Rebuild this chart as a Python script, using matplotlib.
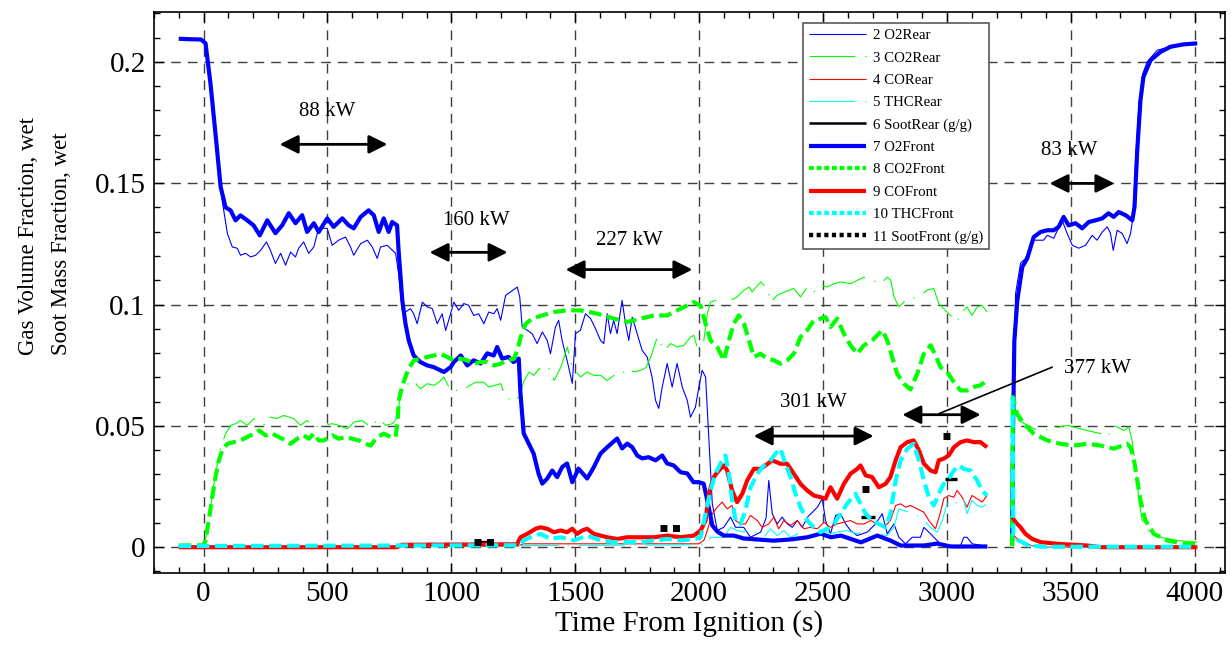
import numpy as np
import matplotlib
matplotlib.use("Agg")
import matplotlib.pyplot as plt
from matplotlib.ticker import MultipleLocator, FuncFormatter

plt.rcParams["font.family"] = ["Liberation Serif", "DejaVu Serif"]
plt.rcParams["lines.scale_dashes"] = False

nan = np.nan

# (time s, fraction); nan marks the data gap
O2_REAR = [(-100, .2095), (-10, .2092), (8, .2076), (28, .191), (48, .1705), (69, .1484), (75, .143),
           (96, .1293), (116, .1237), (136, .1232), (149, .1203), (170, .1211), (190, .1196), (210, .1203),
           (230, .1223), (254, .1258), (270, .1223), (290, .1169), (311, .1211), (331, .1162), (351, .1216),
           (371, .1196), (384, .1232), (404, .1258), (424, .1211), (445, .1237), (459, .1293), (479, .1314),
           (499, .1314), (519, .1244), (545, .1265), (573, .1278), (593, .1237), (606, .1203), (634, .1251),
           (661, .1265), (681, .1237), (701, .119), (714, .1237), (741, .1244), (775, .1211), (787, .1128),
           (802, .0976), (815, .0969), (835, .0983), (848, .0962), (862, .0921), (883, .101), (903, .099),
           (923, .0983), (943, .0921), (963, .0962), (977, .0893), (997, .0962), (1010, .101), (1030, .0976),
           (1050, .1004), (1070, .0997), (1090, .0955), (1110, .0962), (1131, .0921), (1151, .0969),
           (1171, .0962), (1185, .0983), (1199, .0935), (1219, .1038), (1239, .1052), (1266, .1072),
           (1276, .1031), (1286, .0907), (1306, .0894), (1326, .088), (1346, .0839), (1367, .0887),
           (1387, .0852), (1400, .0797), (1420, .0907), (1433, .0935), (1447, .0852), (1467, .077),
           (1488, .0675), (1501, .088), (1521, .0894), (1541, .0962), (1562, .0942), (1582, .09),
           (1602, .0852), (1615, .0839), (1629, .0962), (1642, .088), (1655, .0935), (1669, .088),
           (1689, .1017), (1703, .0921), (1716, .0852), (1730, .0948), (1750, .088), (1770, .0811),
           (1790, .0784), (1810, .0701), (1824, .0605), (1837, .0572), (1851, .066), (1871, .0757),
           (1891, .066), (1911, .0757), (1932, .066), (1952, .0605), (1965, .0536), (1985, .0577),
           (1999, .066), (2012, .0729), (2026, .0701), (2039, .045), (2053, .018), (2073, .0069),
           (2099, .0082), (2127, .0124), (2147, .0082), (2180, .0082), (2207, .0041), (2248, .0062),
           (2270, .012), (2281, .0275), (2295, .0138), (2315, .0096), (2335, .0124), (2356, .0096),
           (2376, .0082), (2396, .011), (2416, .0082), (2437, .0124), (2457, .0144), (2477, .0165),
           (2497, .02), (2510, .011), (2530, .0055), (2551, .0131), (2571, .0138), (2591, .0096),
           (2611, .0069), (2638, .0048), (2678, .0062), (2712, .0096), (2739, .0138), (2759, .0055),
           (2786, .0096), (2806, .0041), (2833, .0014), (2860, .0041), (2893, .0041), (2907, .0082),
           (2934, .0055), (2954, .0034), (2974, .0014), (3015, .0007), (3055, .0007), (3068, .0041),
           (3081, .0041), (3102, .0014), (3162, .0004), (3210, nan), (3263, .001), (3268, .06),
           (3277, .1045), (3297, .117), (3317, .119), (3350, .1265), (3390, .1265), (3405, .1285),
           (3431, .1273), (3465, .1347), (3485, .1293), (3506, .1244), (3532, .1232), (3559, .1244),
           (3586, .1285), (3606, .1265), (3627, .1299), (3647, .132), (3660, .1293), (3671, .1223),
           (3687, .1306), (3707, .1293), (3727, .1251), (3741, .1293), (3751, .1361), (3762, .16),
           (3775, .183), (3790, .195), (3808, .2), (3849, .2048), (3902, .2062), (3955, .2072), (4010, .2076)]

CO2_REAR = [(-100, .0005), (0, .0006), (10, .004), (25, .014), (40, .025), (55, .034), (69, .041),
            (89, .0468), (109, .0502), (129, .0509), (149, .0522), (176, .0502), (204, .053), (230, .0516),
            (250, .0502), (270, .0536), (297, .053), (324, .0543), (364, .053), (391, .0502), (418, .0522),
            (445, .0495), (485, .0502), (519, .0509), (546, .0502), (580, .0488), (607, .0516), (640, .0522),
            (674, .0495), (708, .053), (735, .0502), (762, .0509), (782, .0536), (795, .0633), (809, .0667),
            (829, .0674), (849, .0687), (862, .0667), (876, .0653), (903, .0674), (930, .0667), (950, .068),
            (970, .0701), (997, .0646), (1037, .0646), (1064, .066), (1098, .068), (1131, .068),
            (1151, .066), (1199, .0674), (1219, .0619), (1253, .0598), (1273, .0619), (1294, .0687),
            (1314, .0722), (1334, .0708), (1354, .0736), (1375, .0722), (1395, .0736), (1415, .0687),
            (1442, .0742), (1468, .0825), (1488, .0742), (1521, .0701), (1548, .0722), (1575, .0708),
            (1602, .0708), (1629, .0687), (1656, .0708), (1683, .0708), (1710, .0736), (1737, .0722),
            (1764, .0729), (1785, .074), (1805, .0784), (1831, .0866), (1858, .0811), (1885, .0839),
            (1912, .0825), (1939, .0832), (1965, .0866), (1979, .0873), (1999, .0797), (2019, .0852),
            (2033, .0962), (2046, .101), (2066, .1017), (2086, .0997), (2100, .099), (2127, .1017),
            (2153, .1031), (2181, .1059), (2201, .1072), (2214, .1052), (2248, .1093), (2275, .1066),
            (2289, .101), (2315, .1038), (2362, .1059), (2382, .1066), (2409, .1031), (2436, .1072),
            (2463, .1052), (2490, .1079), (2517, .1072), (2544, .1086), (2571, .1093), (2611, .1086),
            (2665, .1113), (2698, .11), (2733, .1086), (2759, .1113), (2773, .11), (2787, .1031),
            (2806, .099), (2833, .1017), (2860, .1024), (2893, .1038), (2920, .1059), (2947, .1066),
            (2967, .1004), (2987, .0983), (3007, .0962), (3028, .0942), (3041, .0928), (3061, .0969),
            (3081, .099), (3101, .0955), (3122, .099), (3142, .0997), (3162, .0969), (3210, nan),
            (3263, .0005), (3267, .059), (3290, .0522), (3350, .0488), (3390, .0481), (3420, .0488),
            (3485, .0502), (3512, .0495), (3566, .0481), (3620, .0468), (3647, .0454), (3674, .0502),
            (3714, .0481), (3734, .0495), (3747, .044), (3761, .033), (3775, .0193), (3788, .011),
            (3815, .0069), (3862, .0041), (3929, .0028), (4010, .0021)]

CO_REAR = [(-100, 0), (780, 0), (800, .0005), (1270, .0005), (1290, .0014), (2000, .0014), (2020, .003),
           (2033, .0069), (2053, .0138), (2073, .0165), (2093, .0186), (2113, .0158), (2133, .0172),
           (2147, .011), (2167, .0096), (2187, .0096), (2207, .0131), (2235, .011), (2254, .0082),
           (2281, .0096), (2301, .0124), (2321, .0076), (2342, .011), (2369, .009), (2396, .011),
           (2423, .0076), (2450, .0082), (2477, .0076), (2504, .0103), (2530, .0082), (2557, .0096),
           (2584, .0103), (2611, .011), (2638, .0096), (2665, .0096), (2692, .011), (2719, .0096),
           (2745, .0082), (2772, .011), (2793, .0172), (2813, .0179), (2833, .0165), (2853, .0172),
           (2880, .0158), (2907, .0144), (2927, .011), (2954, .0076), (2974, .0144), (2987, .02),
           (3007, .0213), (3028, .0206), (3041, .0234), (3061, .0206), (3081, .0165), (3101, .0213),
           (3122, .02), (3142, .0186), (3162, .0213), (3210, nan), (3263, .0055), (3290, .0028),
           (3340, .0007), (3400, 0), (4010, 0)]

THC_REAR = [(-100, 0), (2030, .001), (2046, .0041), (2099, .0041), (2127, .0082), (2153, .0069),
            (2181, .0062), (2207, .0076), (2235, .0055), (2261, .0041), (2288, .0076), (2315, .0048),
            (2342, .0069), (2369, .0041), (2396, .0055), (2423, .0041), (2450, .0048), (2477, .0062),
            (2504, .0069), (2530, .0055), (2557, .0062), (2597, .0069), (2638, .0055), (2678, .0069),
            (2719, .0055), (2759, .0048), (2786, .0082), (2806, .0158), (2826, .0151), (2853, .0144),
            (2880, .0131), (2907, .011), (2934, .0082), (2961, .0062), (2981, .011), (3001, .0179),
            (3028, .0193), (3048, .0172), (3068, .0193), (3081, .0138), (3101, .0193), (3122, .0172),
            (3142, .0165), (3162, .0179), (3210, nan), (3263, .004), (3290, .0021), (3340, .0005),
            (3400, 0), (4010, 0)]

SOOT_REAR = [(1105, .0023), (1160, .0023), (1400, nan), (2652, .0125), (2708, .0125), (2800, nan),
             (2992, .0283), (3040, .0283)]

O2_FRONT = [(-100, .2095), (-50, .2093), (-10, .2092), (8, .2076), (28, .191), (48, .1705), (69, .1484),
            (89, .140), (109, .1388), (129, .1347), (149, .1367), (176, .1347), (202, .1326), (227, .1285),
            (257, .1347), (290, .1294), (317, .1326), (344, .1376), (371, .1335), (398, .1368), (418, .1299),
            (445, .1335), (465, .1299), (499, .1355), (525, .1320), (560, .1355), (586, .1326), (606, .1314),
            (634, .1361), (666, .1388), (687, .1368), (707, .1299), (727, .1355), (747, .1299), (761, .1340),
            (781, .1326), (787, .1223), (802, .1017), (815, .092), (828, .0852), (848, .079), (875, .0763),
            (903, .0749), (929, .0742), (970, .0722), (997, .0742), (1010, .0763), (1038, .079),
            (1064, .0749), (1090, .077), (1118, .0757), (1145, .0799), (1171, .079), (1185, .0825),
            (1205, .0777), (1231, .0784), (1251, .0763), (1272, .0777), (1279, .0633), (1292, .0469),
            (1312, .0427), (1332, .0386), (1352, .0303), (1367, .0262), (1387, .0283), (1407, .0316),
            (1427, .0289), (1447, .033), (1467, .0345), (1488, .0268), (1513, .0324), (1548, .0283),
            (1575, .033), (1602, .0386), (1629, .0412), (1669, .0448), (1689, .0407), (1710, .0427),
            (1730, .0412), (1750, .0378), (1770, .0366), (1796, .0371), (1824, .0358), (1851, .0378),
            (1871, .0345), (1897, .0337), (1925, .0309), (1952, .0304), (1977, .0268), (1998, .0268),
            (2018, .0262), (2033, .0193), (2053, .009), (2073, .0065), (2099, .0048), (2139, .0048),
            (2180, .0036), (2235, .0032), (2301, .0027), (2369, .0032), (2437, .0041), (2491, .0056),
            (2531, .0041), (2572, .0048), (2653, .002), (2719, .0048), (2773, .0027), (2813, .0007),
            (2906, .0007), (2961, .0015), (3015, .0003), (3163, .0003), (3210, nan), (3263, .001),
            (3267, .05), (3272, .085), (3284, .1017), (3304, .1155), (3324, .119), (3350, .1278),
            (3378, .1299), (3405, .1306), (3431, .1306), (3451, .132), (3471, .1361), (3491, .1326),
            (3519, .1335), (3546, .1314), (3572, .134), (3600, .1347), (3627, .1355), (3652, .1376),
            (3673, .1361), (3693, .1381), (3721, .1368), (3748, .1347), (3757, .1402), (3768, .1636),
            (3781, .1842), (3793, .1938), (3822, .2007), (3862, .2041), (3902, .2062), (3955, .2072),
            (4010, .2076)]

CO2_FRONT = [(-100, .0007), (0, .0008), (8, .0028), (21, .011), (35, .0206), (48, .0289), (62, .0358),
             (75, .0399), (96, .0426), (122, .0433), (149, .044), (176, .0454), (204, .0468), (224, .0481),
             (250, .0461), (277, .0468), (304, .0454), (331, .044), (351, .0426), (378, .0447), (404, .0461),
             (425, .0447), (445, .0468), (465, .044), (485, .044), (519, .0461), (546, .0447), (573, .0454),
             (600, .0447), (627, .044), (654, .0426), (674, .0419), (701, .0454), (728, .0468), (755, .0454),
             (775, .0454), (782, .0509), (788, .0605), (802, .0667), (815, .0701), (828, .0736), (849, .077),
             (876, .0777), (903, .0784), (930, .079), (956, .0797), (983, .0784), (1010, .077), (1037, .0777),
             (1064, .077), (1091, .0756), (1118, .0763), (1145, .0763), (1172, .0749), (1199, .0756),
             (1226, .077), (1253, .0777), (1266, .0811), (1280, .0866), (1300, .0921), (1327, .0942),
             (1367, .0955), (1414, .0969), (1467, .0976), (1521, .0976), (1589, .0962), (1656, .0942),
             (1710, .0928), (1764, .0942), (1817, .0955), (1871, .0955), (1925, .0983), (1979, .101),
             (2006, .0995), (2026, .0921), (2046, .0852), (2073, .0825), (2100, .077), (2120, .0852),
             (2140, .0921), (2160, .0955), (2181, .0921), (2201, .0852), (2221, .0784), (2248, .0797),
             (2275, .0777), (2302, .077), (2328, .0756), (2355, .077), (2382, .0797), (2409, .0866),
             (2436, .0894), (2463, .0935), (2490, .0942), (2510, .0948), (2530, .0907), (2557, .0942),
             (2584, .088), (2611, .0832), (2638, .0797), (2665, .0832), (2698, .0852), (2739, .0894),
             (2759, .0852), (2779, .0784), (2799, .0715), (2826, .0674), (2853, .065), (2880, .0715),
             (2907, .0797), (2934, .0832), (2954, .079), (2974, .0742), (3001, .0722), (3028, .068),
             (3055, .0646), (3081, .0646), (3108, .066), (3135, .0667), (3162, .0687), (3210, nan),
             (3263, .0005), (3266, .0619), (3283, .055), (3310, .0509), (3350, .0468), (3405, .044),
             (3458, .0426), (3512, .0419), (3566, .0426), (3620, .0419), (3674, .0406), (3727, .0426),
             (3741, .0412), (3755, .0358), (3768, .0275), (3781, .0193), (3801, .011), (3835, .0055),
             (3889, .0028), (3957, .0014), (4010, .0014)]

CO_FRONT = [(-100, 0), (780, 0), (800, .001), (1265, .0012), (1279, .0041), (1306, .0055), (1340, .0076),
            (1360, .0082), (1387, .0076), (1414, .0062), (1441, .0069), (1467, .0062), (1488, .0076),
            (1508, .0055), (1528, .0069), (1548, .0076), (1575, .0055), (1602, .0048), (1629, .0041),
            (1669, .0034), (1710, .0041), (1764, .0041), (1817, .0041), (1871, .0048), (1925, .0041),
            (1979, .0048), (2006, .0069), (2026, .011), (2039, .022), (2059, .0289), (2079, .0316),
            (2100, .0337), (2113, .0316), (2133, .0234), (2153, .0186), (2174, .022), (2194, .0275),
            (2221, .0323), (2248, .0323), (2268, .0337), (2295, .0358), (2328, .0344), (2355, .0344),
            (2382, .0303), (2409, .0261), (2436, .0234), (2463, .0213), (2490, .0206), (2510, .02),
            (2530, .0247), (2557, .02), (2584, .0261), (2611, .0303), (2638, .0323), (2651, .0337),
            (2672, .0296), (2698, .0289), (2725, .0247), (2752, .0261), (2772, .0289), (2793, .0358),
            (2813, .0412), (2840, .0433), (2866, .044), (2887, .0399), (2907, .0344), (2934, .0316),
            (2954, .0309), (2967, .0358), (2987, .0365), (3007, .0378), (3028, .0412), (3055, .0433),
            (3081, .044), (3108, .0433), (3135, .0433), (3162, .0412), (3210, nan), (3263, .0124),
            (3277, .0103), (3297, .0082), (3317, .0055), (3344, .0034), (3378, .0021), (3445, .0014),
            (3566, .0007), (3620, 0), (4010, 0)]

THC_FRONT = [(-100, .0005), (1270, .0008), (1293, .0028), (1333, .0048), (1360, .0055), (1400, .0034),
             (1441, .0041), (1495, .0028), (1548, .0048), (1602, .0028), (1656, .0021), (1710, .0021),
             (1764, .0021), (1817, .0028), (1871, .0034), (1925, .0028), (1979, .0034), (2006, .0041),
             (2026, .0138), (2046, .0234), (2066, .0303), (2093, .0358), (2106, .0378), (2120, .0303),
             (2133, .0193), (2147, .011), (2167, .0096), (2187, .0151), (2207, .0247), (2235, .0303),
             (2261, .0337), (2288, .0358), (2308, .0385), (2328, .0406), (2348, .0344), (2369, .0289),
             (2389, .022), (2409, .0165), (2436, .011), (2463, .0082), (2490, .0062), (2517, .0076),
             (2544, .0096), (2571, .0138), (2597, .0179), (2631, .022), (2651, .0179), (2672, .0138),
             (2698, .011), (2725, .0096), (2752, .0082), (2772, .0138), (2793, .0275), (2813, .0358),
             (2840, .0406), (2866, .0426), (2887, .0358), (2907, .0275), (2927, .0206), (2947, .0172),
             (2967, .022), (2987, .0261), (3007, .0282), (3028, .0316), (3048, .0337), (3068, .0323),
             (3095, .0316), (3122, .0275), (3142, .0234), (3162, .0213), (3210, nan), (3265, .0619),
             (3268, .005), (3290, .0028), (3330, .0007), (3400, .0002), (4010, .0002)]

SOOT_FRONT = [(1091, .0023), (1172, .0023), (1400, nan), (1842, .008), (1925, .008), (2200, nan),
              (2658, .0238), (2686, .0238), (2800, nan), (2984, .0458), (3012, .0458)]

# label, data, colour, width, dashes
SERIES = [
    ("2 O2Rear", O2_REAR, "#0000ff", 0.8, None),
    ("3 CO2Rear", CO2_REAR, "#00ff00", 0.8, (0, (33, 7, 1, 7))),
    ("4 CORear", CO_REAR, "#ff0000", 0.8, None),
    ("5 THCRear", THC_REAR, "#00ffff", 0.8, (0, (33, 7, 1, 7))),
    ("6 SootRear (g/g)", SOOT_REAR, "#000000", 2.4, None),
    ("7 O2Front", O2_FRONT, "#0000ff", 3.0, None),
    ("8 CO2Front", CO2_FRONT, "#00ff00", 3.0, (0, (9, 4))),
    ("9 COFront", CO_FRONT, "#ff0000", 3.0, None),
    ("10 THCFront", THC_FRONT, "#00ffff", 3.0, (0, (9, 4))),
    ("11 SootFront (g/g)", SOOT_FRONT, "#000000", 5.0, (0, (5, 4))),
]

# (start s, end s, level, label, text x, text y)
POWER = [
    (307, 742, 0.166, "88 kW", 500, 0.1794),
    (912, 1227, 0.1215, "160 kW", 1102, 0.1347),
    (1461, 1973, 0.1144, "227 kW", 1719, 0.1265),
    (2220, 2704, 0.0458, "301 kW", 2462, 0.0595),
    (2820, 3136, 0.0546, "377 kW", 3606, 0.0737),
    (3414, 3676, 0.1499, "83 kW", 3495, 0.1636),
]

fig = plt.figure(figsize=(12.31, 6.48), dpi=100)
ax = fig.add_axes([0.1251, 0.1162, 0.8700, 0.8648])

for label, data, color, lw, dash in SERIES:
    arr = np.array(data, dtype=float)
    kw = dict(color=color, lw=lw, label=label, solid_capstyle="butt", dash_capstyle="butt")
    if dash is not None:
        kw["linestyle"] = dash
    ax.plot(arr[:, 0], arr[:, 1], **kw)

for x0, x1, y, label, tx, ty in POWER:
    ax.annotate("", xy=(x1, y), xytext=(x0, y),
                arrowprops=dict(arrowstyle="<|-|>", color="k", lw=2, mutation_scale=28,
                                shrinkA=0, shrinkB=0))
    ax.text(tx, ty, label, ha="center", va="center", fontsize=15)

# leader from the 377 kW arrow to its label
ax.annotate("", xy=(2967, 0.055), xytext=(3425, 0.0742),
            arrowprops=dict(arrowstyle="-", color="k", lw=1.2, shrinkA=0, shrinkB=0))

ax.set_xlim(-200, 4122)
ax.set_ylim(-0.0105, 0.2204)
ax.xaxis.set_major_locator(MultipleLocator(500))
ax.xaxis.set_minor_locator(MultipleLocator(100))
ax.yaxis.set_major_locator(MultipleLocator(0.05))
ax.yaxis.set_minor_locator(MultipleLocator(0.01))
ax.yaxis.set_major_formatter(FuncFormatter(lambda v, p: f"{v:g}"))
ax.tick_params(which="both", direction="in", top=True, right=True, labelsize=21, width=1)
ax.tick_params(which="major", length=7, pad=6)
ax.tick_params(which="minor", length=4)
for s in ax.spines.values():
    s.set_linewidth(1.2)
ax.set_axisbelow(True)
ax.grid(True, which="major", color="0.25", lw=1, linestyle=(0, (7, 5)))

ax.set_xlabel("Time From Ignition (s)", fontsize=21, labelpad=2)
fig.text(0.0365, 0.452, "Gas Volume Fraction, wet\nSoot Mass Fraction, wet", rotation=90,
         ha="center", va="bottom", multialignment="left", fontsize=16.5, linespacing=1.75)

leg = ax.legend(loc="upper right", bbox_to_anchor=(0.78, 0.981), borderaxespad=0, fontsize=10.7,
                handlelength=3.85, handletextpad=0.45, labelspacing=0.6, borderpad=0.4,
                fancybox=False, framealpha=1, edgecolor="0.35")
leg.get_frame().set_linewidth(1.2)
for line, (label, data, color, lw, dash) in zip(leg.get_lines(), SERIES):
    if label.endswith("Front") and dash is not None:
        line.set_dashes((3.5, 2))
    if label.startswith("6"):
        line.set_linewidth(1.8)
    if label.startswith("11"):
        line.set_dashes((3, 2.5))
        line.set_linewidth(3.2)

fig.savefig("out.png", dpi=100)
